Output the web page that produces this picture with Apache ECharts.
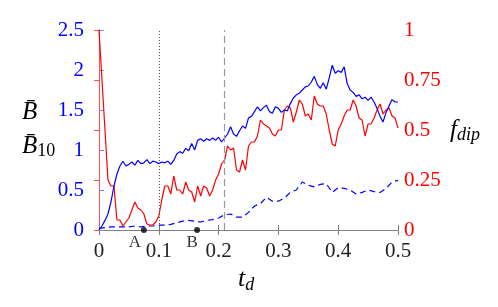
<!DOCTYPE html>
<html><head><meta charset="utf-8">
<script src="https://cdn.jsdelivr.net/npm/echarts@6/dist/echarts.min.js"></script>
<style>html,body{margin:0;padding:0;background:#fff}#c{width:498px;height:307px}</style>
</head><body><div id="c"></div>
<script>
// sampling steps of the time grids
const solidStep = 0.005;
const dashStep = 0.01;
// B-bar (left axis), solid blue, t = 0 .. 0.5 every 0.005
const bBar = [0,0.05,0.12,0.2,0.35,0.55,0.7,0.8,0.86,0.8,0.82,0.85,0.81,0.87,0.83,0.84,0.88,0.83,0.86,0.85,
0.83,0.85,0.84,0.86,0.82,0.87,0.95,0.98,0.96,1.02,0.99,1.08,1.0,1.12,1.14,1.11,1.14,1.12,1.15,1.12,
1.16,1.1,1.15,1.2,1.29,1.2,1.17,1.24,1.3,1.27,1.4,1.42,1.48,1.54,1.49,1.53,1.56,1.48,1.46,1.54,
1.52,1.47,1.5,1.49,1.58,1.65,1.69,1.71,1.75,1.79,1.8,1.85,1.92,1.82,1.77,1.84,1.76,1.9,2.06,1.96,
1.99,1.97,2.04,1.83,1.75,1.72,1.67,1.69,1.64,1.66,1.62,1.66,1.6,1.52,1.42,1.35,1.47,1.55,1.63,1.6,1.6];
// B-bar_10 (left axis), dashed blue, t = 0 .. 0.5 every 0.01
const bBar10 = [0.02,0.03,0.04,0.04,0.04,0.04,0.05,0.04,0.05,0.05,0.06,0.06,0.07,0.09,0.11,0.12,0.11,0.1,0.12,0.13,
0.15,0.19,0.2,0.16,0.16,0.22,0.3,0.33,0.41,0.36,0.36,0.4,0.47,0.5,0.6,0.56,0.54,0.57,0.58,0.47,
0.53,0.52,0.5,0.45,0.47,0.5,0.48,0.47,0.52,0.6,0.62];
// f_dip (right axis), red, t = 0 .. 0.5 every 0.005
const fDip = [1.0,0.75,0.5,0.25,0.22,0.22,0.05,0.05,0.02,0.04,0.06,0.1,0.14,0.11,0.1,0.08,0.03,0.025,0.025,0.04,
0.07,0.15,0.22,0.22,0.18,0.27,0.2,0.2,0.18,0.24,0.2,0.19,0.14,0.22,0.17,0.22,0.21,0.17,0.2,0.25,
0.28,0.33,0.35,0.42,0.4,0.41,0.3,0.29,0.35,0.3,0.42,0.44,0.44,0.47,0.55,0.53,0.52,0.51,0.48,0.47,
0.5,0.5,0.6,0.62,0.61,0.54,0.59,0.65,0.63,0.57,0.58,0.55,0.67,0.63,0.62,0.62,0.58,0.5,0.43,0.42,
0.5,0.53,0.57,0.6,0.6,0.65,0.62,0.56,0.55,0.47,0.53,0.53,0.56,0.6,0.63,0.58,0.6,0.61,0.57,0.56,0.51];
// marked times
const markA = 0.075, markB = 0.164;
const dottedLineT = 0.1, dashedLineT = 0.211;
const xTicks = [0,0.1,0.2,0.3,0.4,0.5];
const leftTicks = [0,0.5,1,1.5,2,2.5];
const rightTicks = [0,0.25,0.5,0.75,1];

const FONT = 'Liberation Serif';
const chart = echarts.init(document.getElementById('c'));
const toPairs = (arr, step) => arr.map((v, i) => [+(i * step).toFixed(3), v]);

chart.setOption({
  animation: false,
  backgroundColor: '#fff',
  textStyle: { fontFamily: FONT },
  grid: { left: 99, right: 100, top: 30, bottom: 77 },
  xAxis: [
    { type: 'value', min: xTicks[0], max: xTicks[xTicks.length-1], interval: 0.1,
      axisLine: { lineStyle: { color: '#808080', width: 1 } },
      axisTick: { inside: true, length: 5, lineStyle: { color: '#808080' } },
      axisLabel: { color: '#222', fontFamily: FONT, fontSize: 21, margin: 11 },
      splitLine: { show: false } },
    { type: 'value', position: 'top', min: 0, max: 0.5, interval: 0.1,
      axisLine: { show: true, lineStyle: { color: '#808080', width: 1 } },
      axisTick: { inside: true, length: 5, lineStyle: { color: '#808080' } },
      axisLabel: { show: false }, splitLine: { show: false } }
  ],
  yAxis: [
    { type: 'value', min: leftTicks[0], max: leftTicks[leftTicks.length-1], interval: 0.5,
      axisLine: { show: true, lineStyle: { color: '#7f7fff', width: 1 } },
      axisTick: { show: true, inside: true, length: 5, lineStyle: { color: '#7f7fff' } },
      axisLabel: { color: '#0000ff', fontFamily: FONT, fontSize: 21, margin: 15 },
      splitLine: { show: false } },
    { type: 'value', min: rightTicks[0], max: rightTicks[rightTicks.length-1], interval: 0.25, position: 'right',
      axisLine: { show: true, lineStyle: { color: '#ff5050', width: 1 } },
      axisTick: { show: true, inside: true, length: 5, lineStyle: { color: '#ff5050' } },
      axisLabel: { color: '#ff0000', fontFamily: FONT, fontSize: 21, margin: 6 },
      splitLine: { show: false } }
  ],
  series: [
    { type: 'line', name: 'marks', data: [], xAxisIndex: 0, yAxisIndex: 0, silent: true,
      markLine: { symbol: 'none', silent: true, label: { show: false },
        data: [
          { xAxis: dottedLineT, lineStyle: { color: '#555', type: [1, 2], width: 1 } },
          { xAxis: dashedLineT, lineStyle: { color: '#999', type: [7, 4], width: 1.2 } }
        ] } },
    { type: 'line', name: 'Bbar10', data: toPairs(bBar10, dashStep), yAxisIndex: 0, showSymbol: false,
      lineStyle: { color: '#0000ff', width: 1.2, type: [6, 4] } },
    { type: 'line', name: 'fdip', data: toPairs(fDip, solidStep), yAxisIndex: 1, showSymbol: false,
      lineStyle: { color: '#ff0000', width: 1.2 } },
    { type: 'line', name: 'Bbar', data: toPairs(bBar, solidStep), yAxisIndex: 0, showSymbol: false,
      lineStyle: { color: '#0000ff', width: 1.2 } },
    { type: 'scatter', name: 'AB', yAxisIndex: 0, clip: false, symbolSize: 6,
      itemStyle: { color: '#000' },
      data: [ { name: 'A', value: [markA, 0], label: { position: [-6, 16] } },
              { name: 'B', value: [markB, 0], label: { position: [-2, 16] } } ],
      label: { show: true, formatter: '{b}', position: [-6, 16], align: 'center', verticalAlign: 'middle',
        fontFamily: FONT, fontSize: 17, color: '#000' } }
  ],
  graphic: [
    { type: 'text', left: 238, top: 266, style: { text: '{t|t}{s|d}', rich: {
        t: { fontFamily: FONT, fontStyle: 'italic', fontSize: 26, fill: '#000' },
        s: { fontFamily: FONT, fontStyle: 'italic', fontSize: 18, fill: '#000', padding: [12, 0, 0, 0] } } } },
    { type: 'text', left: 22, top: 100, style: { text: 'B\u0304', fontFamily: FONT, fontStyle: 'italic', fontSize: 25, fill: '#000' } },
    { type: 'text', left: 22, top: 134, style: { text: '{b|B\u0304}{s|10}', rich: {
        b: { fontFamily: FONT, fontStyle: 'italic', fontSize: 25, fill: '#000' },
        s: { fontFamily: FONT, fontSize: 18, fill: '#000', padding: [10, 0, 0, 0] } } } },
    { type: 'text', left: 450, top: 118, style: { text: '{f|f}{s|dip}', rich: {
        f: { fontFamily: FONT, fontStyle: 'italic', fontSize: 25, fill: '#000' },
        s: { fontFamily: FONT, fontStyle: 'italic', fontSize: 18, fill: '#000', padding: [10, 0, 0, 0] } } } }
  ]
});
</script></body></html>
